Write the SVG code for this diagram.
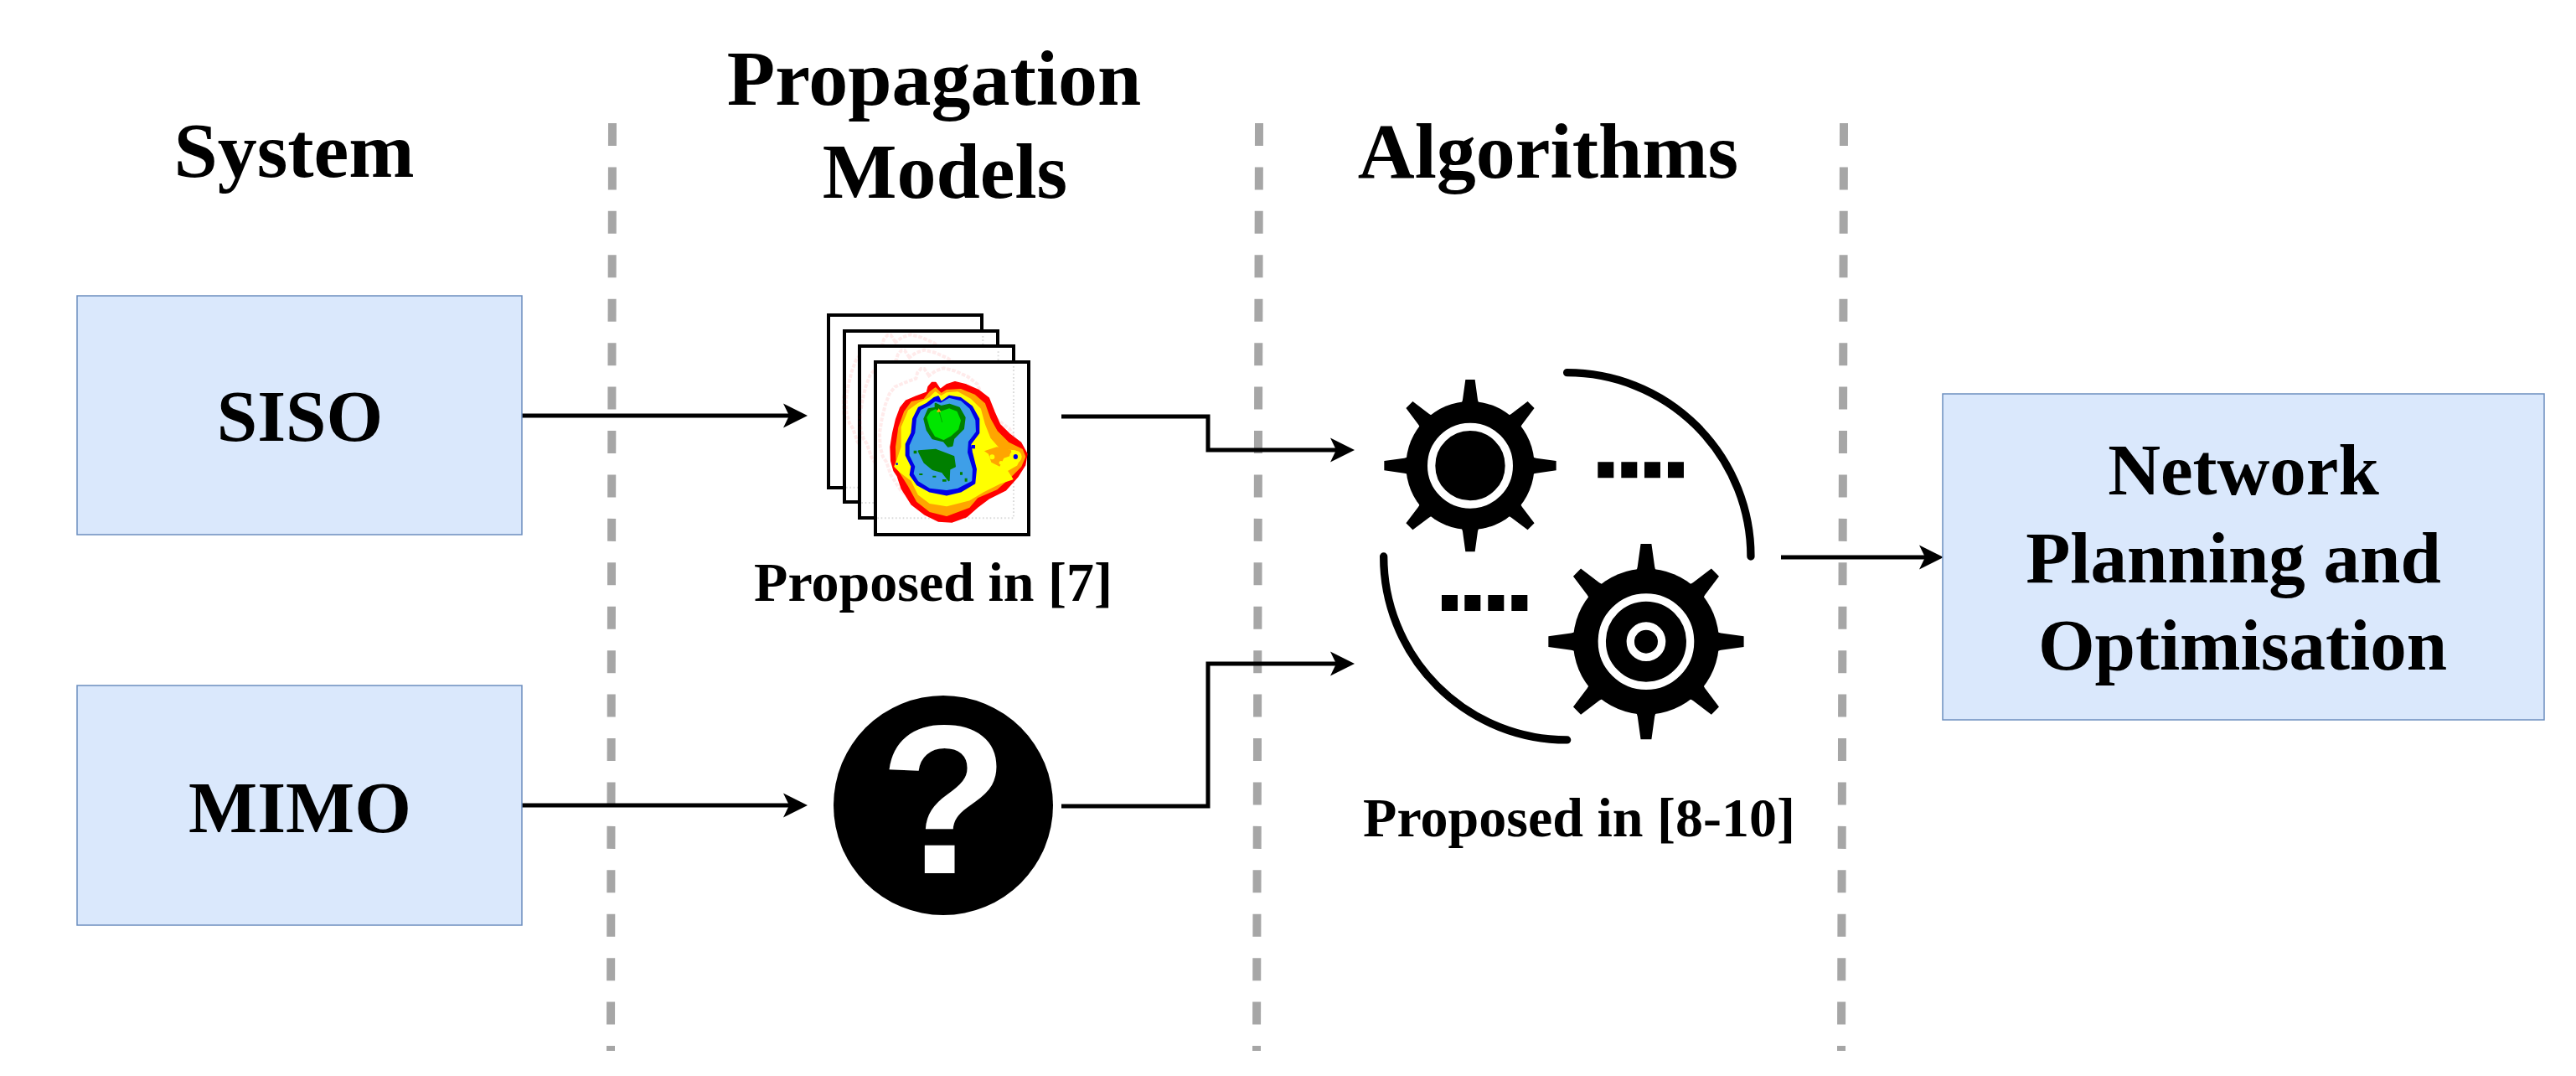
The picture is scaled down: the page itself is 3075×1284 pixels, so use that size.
<svg xmlns="http://www.w3.org/2000/svg" width="3075" height="1284" viewBox="0 0 3075 1284">
<style>
text{font-family:"Liberation Serif","Times New Roman",serif;font-weight:bold;fill:#000;text-anchor:middle}
.h{font-size:94px}.b{font-size:87px}.c{font-size:66px}
.box{fill:#dae8fc;stroke:#6c8ebf;stroke-width:1.5}
.div{stroke:#a6a6a6;stroke-width:10;stroke-dasharray:27 25.43;fill:none}
.con{stroke:#000;stroke-width:5;fill:none;marker-end:url(#arrow)}
.frame{fill:#fff;stroke:#000;stroke-width:4}
.ghost{fill:none;stroke:#ff0000;stroke-opacity:.08;stroke-width:12;stroke-dasharray:14 5}
.tick{fill:none;stroke:#999;stroke-opacity:.35;stroke-width:6;stroke-dasharray:5 8}
.soft{stroke-linejoin:round;stroke-width:6}
</style>
<defs>
<marker id="arrow" markerUnits="userSpaceOnUse" markerWidth="32" markerHeight="32" viewBox="-30 -16 32 32" refX="-22" refY="0" orient="auto"><path d="M0 0L-29 -14.500L-22 0L-29 14.500Z" fill="#000"/></marker>
<path id="tooth" d="M-44 -216Q-29 -220 -27 -236L-17 -308H17L27 -236Q29 -220 44 -216Z"/>
<g id="gear"><circle r="230"/>
<use href="#tooth"/><use href="#tooth" transform="rotate(45)"/><use href="#tooth" transform="rotate(90)"/><use href="#tooth" transform="rotate(135)"/><use href="#tooth" transform="rotate(180)"/><use href="#tooth" transform="rotate(225)"/><use href="#tooth" transform="rotate(270)"/><use href="#tooth" transform="rotate(315)"/></g>
<path id="contour" d="M487 315L470 290L458 290L445 305L440 325L400 340L365 355L345 380L330 420L318 470L310 520L312 570L322 605L335 625L350 670L385 725L430 760L480 785L530 788L580 770L620 735L660 705L720 675L765 625L790 585L797 545L775 505L735 475L700 440L680 395L660 345L625 318L580 298L540 288L510 298Z"/>
</defs>
<rect width="3075" height="1284" fill="#fff"/>

<g id="dividers">
<path class="div" d="M731 147L729 1254"/>
<path class="div" d="M1503 147L1500 1254"/>
<path class="div" d="M2201 147L2198 1254"/>
</g>

<g id="headers">
<text class="h" x="351" y="211">System</text>
<text class="h" x="1115" y="125">Propagation</text>
<text class="h" x="1128" y="236">Models</text>
<text class="h" x="1848" y="212">Algorithms</text>
</g>

<g id="connectors">
<path class="con" d="M623 496H942"/>
<path class="con" d="M1267 497H1442V537H1595"/>
<path class="con" d="M623 961H942"/>
<path class="con" d="M1267 962H1442V792H1595"/>
<path class="con" d="M2126 665H2298"/>
</g>

<g id="siso"><rect class="box" x="92" y="353" width="531" height="285"/><text class="b" x="358" y="526">SISO</text></g>
<g id="mimo"><rect class="box" x="92" y="818" width="531" height="286"/><text class="b" x="358" y="993">MIMO</text></g>
<g id="network"><rect class="box" x="2319" y="470" width="718" height="389"/>
<text class="b" x="2678" y="590">Network</text><text class="b" x="2666" y="695">Planning and</text><text class="b" x="2677" y="799">Optimisation</text></g>

<g id="maps">
<rect class="frame" x="989" y="376" width="183" height="206"/>
<g transform="translate(960 360) scale(.3333)"><use href="#contour" class="ghost" transform="translate(-170 -170)"/></g>
<rect class="frame" x="1008" y="395" width="183" height="204"/>
<g transform="translate(960 360) scale(.3333)"><use href="#contour" class="ghost" transform="translate(-160 -170)"/><path class="tick" d="M150 665H640V120"/></g>
<rect class="frame" x="1026" y="413" width="184" height="205"/>
<g transform="translate(960 360) scale(.3333)"><use href="#contour" class="ghost" transform="translate(-110 -115)"/><path class="tick" d="M205 720H695V175"/></g>
<rect class="frame" x="1045" y="432" width="183" height="206"/>
<g transform="translate(960 360) scale(.3333)">
<use href="#contour" class="ghost" transform="translate(-40 -50)"/>
<path class="tick" d="M262 775H750V225"/>
<use href="#contour" fill="#ff0000" class="soft" stroke="#ff0000"/>
<path class="soft" stroke="#ffa500" fill="#ffa500" d="M490 330L510 318L560 315L610 335L645 365L665 420L690 465L730 505L780 530L790 555L775 590L740 625L690 670L620 700L590 735L510 765L450 750L405 715L375 660L350 620L332 590L330 520L340 450L360 395L385 360L430 350L450 325L470 310Z"/>
<path class="soft" stroke="#ffff00" fill="#ffff00" d="M490 340L510 328L550 325L595 350L630 385L645 440L665 490L700 530L755 535L775 555L760 585L725 605L745 635L700 650L640 680L590 710L510 730L450 720L410 690L385 640L345 610L325 590L335 565L350 520L350 450L375 390L410 365L450 345L470 325Z"/>
<path fill="#ffa500" d="M645 535L690 520L740 530L745 550L715 560L700 590L670 575L660 545Z"/>
<circle cx="757" cy="555" r="22" fill="#ffff00"/><circle cx="706" cy="630" r="19" fill="#ffff00"/><circle cx="673" cy="556" r="9" fill="#ffff00"/><circle cx="705" cy="577" r="7" fill="#ffff00"/>
<ellipse cx="757" cy="555" rx="8" ry="9" fill="#0000e6"/><circle cx="332" cy="581" r="4" fill="#0000e6"/><path fill="#0000e6" d="M600 513h12v13h-12z"/>
<path class="soft" stroke="#0000e6" fill="#0000e6" d="M490 360L520 338L560 345L600 375L625 420L625 470L595 510L600 540L615 600L610 650L560 680L510 692L450 680L405 655L380 620L385 590L365 550L365 510L385 470L390 420L410 380L440 365L465 345L480 340Z"/>
<path class="soft" stroke="#3e9fe8" fill="#3e9fe8" d="M490 365L520 348L560 358L590 385L610 425L612 465L585 500L582 540L600 600L598 640L550 665L510 672L450 665L410 640L395 615L400 590L380 550L380 515L400 470L405 420L420 390L450 375L470 360Z"/>
<path class="soft" stroke="#007f00" fill="#007f00" d="M470 365L490 375L520 368L555 380L575 415L570 455L535 490L530 515L515 518L500 500L460 490L440 460L430 420L445 385L470 380Z"/>
<path class="soft" stroke="#00e600" fill="#00e600" d="M490 395L520 385L545 395L558 425L550 455L525 478L500 492L470 480L452 450L442 415L455 395L470 388Z"/>
<path class="soft" stroke="#007f00" fill="#007f00" d="M410 535L470 530L510 545L535 555L540 590L520 600L518 640L495 610L460 600L430 575L420 555Z"/>
<path fill="#007f00" d="M392 533h11v11h-11zM575 632h9v12h-9zM558 610h9v10h-9zM495 636h14v8h-14zM412 615h12v6h-12zM460 623h12v6h-12z"/>
<path fill="#ffa500" d="M482 382L490 395H474Z"/>
<path d="M484 395L494 432" stroke="#007f00" stroke-width="2" fill="none"/>
</g>
<text class="c" x="1114" y="717">Proposed in [7]</text>
</g>

<g id="unknown-model">
<circle cx="1126" cy="961" r="131" fill="#000"/>
<text x="1127" y="1042" style="font-family:'Liberation Sans',Arial,sans-serif;font-size:252px;fill:#fff">?</text>
</g>

<g id="algorithms">
<g transform="translate(1620 420) scale(.3333)">
<use href="#gear" transform="translate(405 407)"/>
<circle cx="405" cy="407" r="139" fill="none" stroke="#fff" stroke-width="28"/>
<use href="#gear" transform="translate(1035 1037) scale(1.136)"/>
<circle cx="1035" cy="1037" r="158" fill="none" stroke="#fff" stroke-width="28"/>
<circle cx="1035" cy="1037" r="56" fill="none" stroke="#fff" stroke-width="28"/>
<path d="M752 74A658 658 0 0 1 1410 732M95 732A657 657 0 0 0 752 1389" fill="none" stroke="#000" stroke-width="28" stroke-linecap="round"/>
<path d="M862 394h57v57h-57zM946 394h57v57h-57zM1029 394h57v57h-57zM1113 394h57v57h-57zM303 870h57v57h-57zM385 870h57v57h-57zM469 870h57v57h-57zM553 870h57v57h-57z" fill="#000"/>
</g>
<text class="c" x="1885" y="998">Proposed in [8-10]</text>
</g>
</svg>
